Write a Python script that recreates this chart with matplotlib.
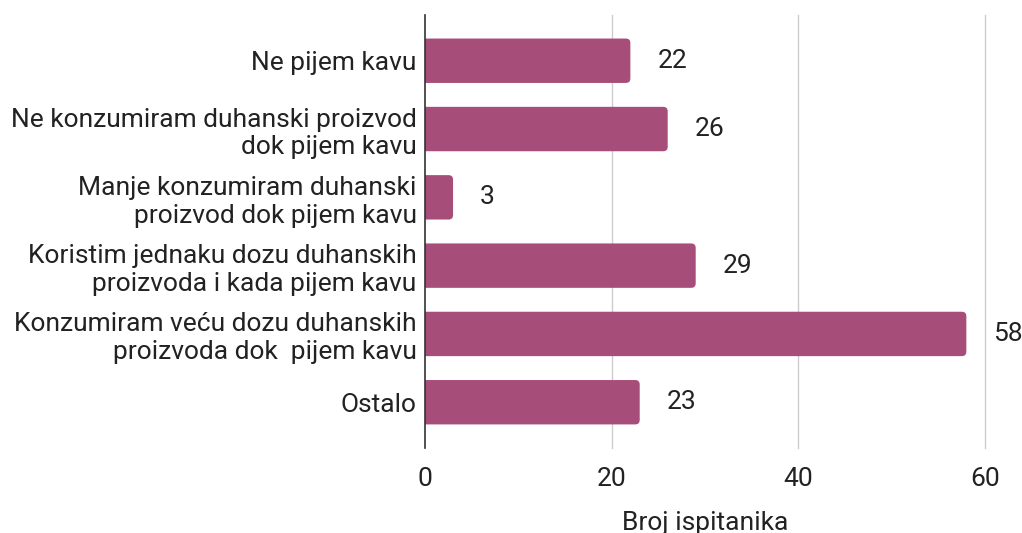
import matplotlib.pyplot as plt
from matplotlib.patches import FancyBboxPatch

plt.rcParams["font.family"] = ["Roboto", "DejaVu Sans"]

categories = [
    "Ne pijem kavu",
    "Ne konzumiram duhanski proizvod\ndok pijem kavu",
    "Manje konzumiram duhanski\nproizvod dok pijem kavu",
    "Koristim jednaku dozu duhanskih\nproizvoda i kada pijem kavu",
    "Konzumiram veću dozu duhanskih\nproizvoda dok  pijem kavu",
    "Ostalo",
]
counts = [22, 26, 3, 29, 58, 23]
xticks = [0, 20, 40, 60]

bar_color = "#a64d79"
text_color = "#222222"
fs = 19

fig = plt.figure(figsize=(10.22, 5.33), dpi=100)
ax = fig.add_axes([0.4159, 0.1595, 0.5479, 0.8124])

y = list(range(len(categories)))
ax.set_ylim(5.67, -0.67)
ax.set_xlim(0, 60)

bars = ax.barh(y, counts, height=0.65, color=bar_color, zorder=3)

# swap the plain bars for ones with softly rounded right ends;
# the left ends start behind the axis and get clipped square
fig.canvas.draw()
bb = ax.get_window_extent()
px_x = bb.width / 60.0
px_y = bb.height / 6.34
radius = 4.5 / px_x
for rect in bars:
    x0, y0 = rect.get_x(), rect.get_y()
    w, h = rect.get_width(), rect.get_height()
    rect.set_visible(False)
    ax.add_patch(FancyBboxPatch((x0 - 2 * radius, y0), w + 2 * radius, h,
                                boxstyle=f"round,pad=0,rounding_size={radius}",
                                mutation_aspect=px_x / px_y,
                                facecolor=bar_color, edgecolor="none", zorder=3))

for yi, v in zip(y, counts):
    ax.annotate(str(v), (v, yi), xytext=(19.5, 0), textcoords="offset points",
                ha="left", va="center", fontsize=fs, color=text_color,
                annotation_clip=False)

ax.set_yticks(y)
ax.set_yticklabels(categories, fontsize=fs, color=text_color)
ax.set_xticks(xticks)
ax.set_xticklabels([str(t) for t in xticks], fontsize=fs, color=text_color)
ax.tick_params(axis="both", length=0)
ax.tick_params(axis="x", pad=14)
ax.tick_params(axis="y", pad=6)

ax.grid(axis="x", color="#cccccc", linewidth=1, zorder=0)
gridlines = ax.xaxis.get_gridlines()
gridlines[0].set_visible(False)
for gl in gridlines:
    gl.set_clip_on(False)
for side in ["top", "right", "bottom"]:
    ax.spines[side].set_visible(False)
ax.spines["left"].set_color("#333333")
ax.spines["left"].set_linewidth(1.2)
ax.spines["left"].set_zorder(4)

ax.set_xlabel("Broj ispitanika", fontsize=fs, color=text_color, labelpad=14)

fig.savefig("out.png", dpi=100)
